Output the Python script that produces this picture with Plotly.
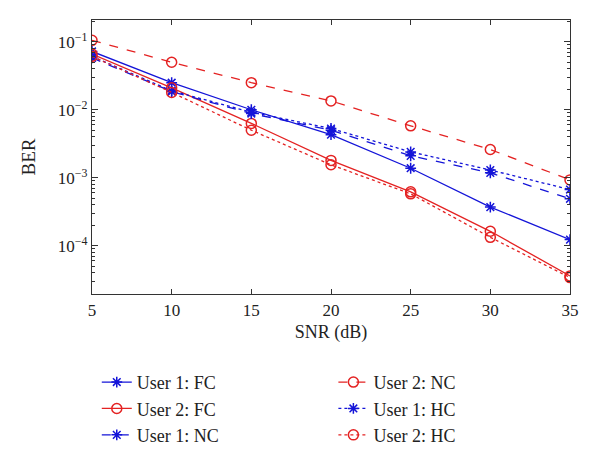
import plotly.graph_objects as go

snr = [5, 10, 15, 20, 25, 30, 35]
u1_fc = [0.072, 0.025, 0.0100, 0.0043, 0.00138, 0.00037, 0.000123]
u2_fc = [0.066, 0.021, 0.0063, 0.0018, 0.00062, 0.000163, 0.000036]
u1_nc = [0.058, 0.0185, 0.0088, 0.0050, 0.0021, 0.00118, 0.00049]
u2_nc = [0.105, 0.050, 0.025, 0.0135, 0.0058, 0.0026, 0.00093]
u1_hc = [0.061, 0.019, 0.0092, 0.0053, 0.0024, 0.0013, 0.00067]
u2_hc = [0.061, 0.018, 0.0050, 0.00155, 0.00058, 0.000133, 0.000034]

names = ["User 1: FC", "User 2: FC", "User 1: NC", "User 2: NC", "User 1: HC", "User 2: HC"]
xtickvals = [5, 10, 15, 20, 25, 30, 35]
ytickvals = [1e-4, 1e-3, 1e-2, 1e-1]
yticktext = ["10<sup>−4</sup>", "10<sup>−3</sup>", "10<sup>−2</sup>", "10<sup>−1</sup>"]
yminor = [m * 10.0 ** e for e in range(-5, 0) for m in range(2, 10)]

BLUE = "#1414d8"
RED = "#e42222"

series = [
    (u1_fc, names[0], BLUE, "solid", "asterisk-open", "legend"),
    (u2_fc, names[1], RED, "solid", "circle-open", "legend"),
    (u1_nc, names[2], BLUE, "dash", "asterisk-open", "legend"),
    (u2_nc, names[3], RED, "dash", "circle-open", "legend2"),
    (u1_hc, names[4], BLUE, "dot", "asterisk-open", "legend2"),
    (u2_hc, names[5], RED, "dot", "circle-open", "legend2"),
]

fig = go.Figure()
for ys, nm, col, dash, sym, leg in series:
    fig.add_trace(go.Scatter(
        x=snr, y=ys, name=nm, mode="lines+markers",
        line=dict(color=col, width=1.3, dash=dash),
        marker=dict(symbol=sym, size=9 if sym.startswith("asterisk") else 10,
                    color=col, line=dict(color=col, width=1.5)),
        legend=leg,
    ))

# invisible trace on overlay axis to carry minor ticks
fig.add_trace(go.Scatter(x=[snr[0]], y=[u2_nc[0]], yaxis="y2", mode="markers",
                         marker=dict(opacity=0), showlegend=False, hoverinfo="skip"))

serif = "Liberation Serif, Times New Roman, serif"
font = dict(family=serif, size=17, color="#222")
yrange = [-4.71, -0.68]

fig.update_layout(
    width=600, height=462,
    margin=dict(l=84, r=38, t=12, b=176, autoexpand=False),
    paper_bgcolor="white", plot_bgcolor="white",
    font=font,
    xaxis=dict(range=[5, 35], tickvals=xtickvals, ticklen=5, automargin=False,
               showline=True, linecolor="#333", linewidth=1.2, mirror="ticks",
               ticks="inside", tickcolor="#333", showgrid=False, zeroline=False,
               title=dict(text="SNR (dB)", standoff=6, font=dict(size=18))),
    yaxis=dict(type="log", range=yrange, tickvals=ytickvals, ticktext=yticktext,
               ticklen=6, automargin=False,
               showline=True, linecolor="#333", linewidth=1.2, mirror="ticks",
               ticks="inside", tickcolor="#333", showgrid=False, zeroline=False,
               title=dict(text="BER", standoff=17, font=dict(size=19))),
    yaxis2=dict(type="log", range=yrange, overlaying="y", side="left", anchor="x",
                tickvals=yminor, showticklabels=False, ticks="inside", ticklen=3,
                tickcolor="#333", mirror="ticks", showline=False, showgrid=False,
                zeroline=False, automargin=False),
    legend=dict(x=0.01, y=-0.255, xanchor="left", yanchor="top", xref="paper", yref="paper",
                bgcolor="rgba(0,0,0,0)", tracegroupgap=0, itemwidth=30,
                font=dict(family=serif, size=18, color="#222")),
    legend2=dict(x=0.505, y=-0.255, xanchor="left", yanchor="top", xref="paper", yref="paper",
                 bgcolor="rgba(0,0,0,0)", tracegroupgap=0, itemwidth=30,
                 font=dict(family=serif, size=18, color="#222")),
)

fig.write_html("out.html")
